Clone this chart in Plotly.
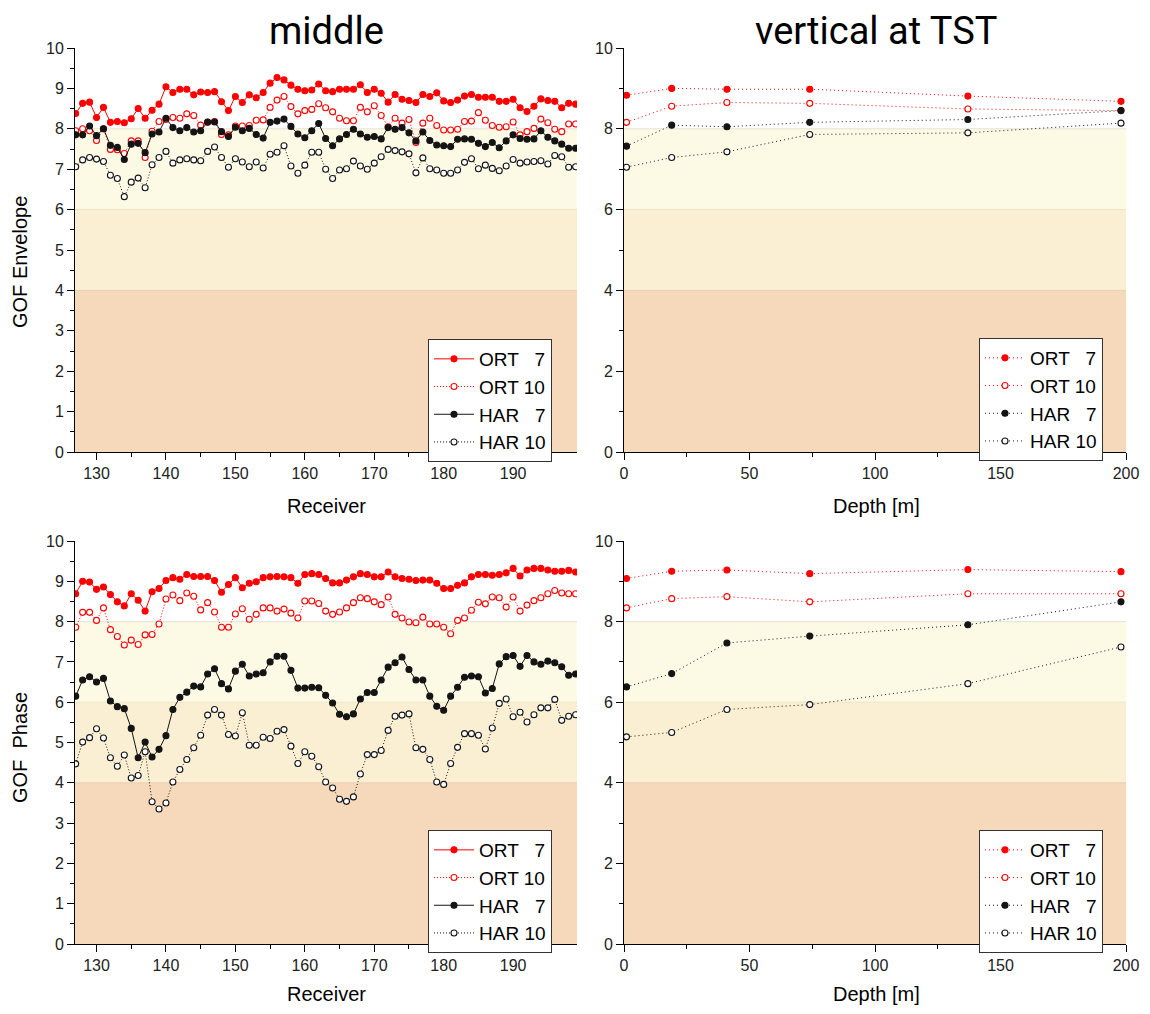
import plotly.graph_objects as go

# ---------------- data ----------------
receivers = [127, 128, 129, 130, 131, 132, 133, 134, 135, 136, 137, 138, 139, 140, 141, 142, 143, 144,
             145, 146, 147, 148, 149, 150, 151, 152, 153, 154, 155, 156, 157, 158, 159, 160, 161, 162,
             163, 164, 165, 166, 167, 168, 169, 170, 171, 172, 173, 174, 175, 176, 177, 178, 179, 180,
             181, 182, 183, 184, 185, 186, 187, 188, 189, 190, 191, 192, 193, 194, 195, 196, 197, 198, 199]

env_ort7 = [8.38, 8.63, 8.66, 8.28, 8.53, 8.16, 8.18, 8.15, 8.25, 8.50, 8.26, 8.46, 8.61, 9.04, 8.90, 8.98,
            8.98, 8.84, 8.91, 8.90, 8.92, 8.67, 8.45, 8.80, 8.65, 8.84, 8.77, 8.90, 9.13, 9.27, 9.21, 9.08,
            8.98, 8.94, 8.96, 9.11, 8.94,
            8.92, 8.98, 8.98, 8.98, 9.09, 8.90, 8.98, 8.88, 8.66, 8.85, 8.73, 8.70, 8.65, 8.85, 8.80, 8.89,
            8.69, 8.65, 8.71, 8.81, 8.85, 8.78, 8.78, 8.78, 8.68, 8.68, 8.73, 8.52, 8.43, 8.56, 8.74, 8.70,
            8.68, 8.52, 8.63, 8.61]
env_ort10 = [7.95, 8.00, 7.95, 7.71, 8.00, 7.49, 7.48, 7.39, 7.70, 7.70, 7.29, 7.94, 8.18, 8.23, 8.28, 8.26,
             8.37, 8.33, 8.09, 8.16, 8.18, 7.86, 7.85, 8.07, 8.07, 8.08, 8.21, 8.22, 8.53, 8.71, 8.80, 8.55,
             8.37, 8.45, 8.48, 8.62, 8.52,
             8.42, 8.26, 8.20, 8.20, 8.53, 8.42, 8.57, 8.33, 8.05, 8.26, 8.14, 8.23, 7.66, 8.14, 8.26, 8.08,
             7.97, 7.97, 7.99, 8.18, 8.19, 8.40, 8.21, 8.08, 8.04, 8.05, 8.17, 7.85, 7.93, 8.01, 8.24, 8.15,
             7.99, 7.93, 8.12, 8.12]
env_har7 = [7.85, 7.85, 8.07, 7.83, 8.00, 7.59, 7.54, 7.24, 7.62, 7.64, 7.41, 7.87, 7.92, 8.26, 8.03, 7.95,
            8.03, 7.92, 7.95, 8.17, 8.17, 7.93, 7.81, 8.04, 7.95, 8.01, 7.86, 7.77, 8.16, 8.19, 8.24, 8.06,
            7.87, 7.78, 7.95, 8.13, 7.76,
            7.58, 7.75, 7.86, 7.99, 7.87, 7.79, 7.81, 7.75, 8.03, 7.99, 8.03, 7.90, 7.70, 7.92, 7.71, 7.60,
            7.58, 7.56, 7.74, 7.75, 7.74, 7.64, 7.56, 7.66, 7.53, 7.70, 7.85, 7.76, 7.74, 7.75, 7.95, 7.79,
            7.70, 7.62, 7.52, 7.52]
env_har10 = [7.06, 7.23, 7.29, 7.25, 7.19, 6.85, 6.77, 6.32, 6.68, 6.78, 6.54, 7.11, 7.29, 7.44, 7.15, 7.23,
             7.26, 7.23, 7.21, 7.44, 7.55, 7.29, 7.05, 7.26, 7.18, 7.06, 7.18, 7.03, 7.37, 7.42, 7.58, 7.08,
             6.90, 7.10, 7.42, 7.42, 7.00,
             6.77, 6.98, 7.01, 7.20, 7.08, 7.00, 7.15, 7.31, 7.49, 7.46, 7.43, 7.38, 6.91, 7.28, 7.01, 6.98,
             6.90, 6.90, 6.98, 7.17, 7.26, 7.01, 7.10, 7.02, 6.96, 7.08, 7.24, 7.15, 7.18, 7.19, 7.21, 7.13,
             7.34, 7.31, 7.05, 7.06]

ph_ort7 = [8.69, 9.00, 8.98, 8.80, 8.86, 8.67, 8.49, 8.39, 8.69, 8.53, 8.26, 8.74, 8.82, 9.02, 9.09, 9.05,
           9.17, 9.12, 9.12, 9.12, 9.02, 8.73, 8.92, 9.09, 8.84, 8.95, 8.99, 9.09, 9.11, 9.12, 9.11, 9.09,
           8.95, 9.17, 9.19, 9.17, 9.07,
           8.96, 8.96, 9.03, 9.11, 9.19, 9.17, 9.11, 9.11, 9.23, 9.11, 9.07, 9.05, 9.02, 9.03, 9.03, 8.95,
           8.82, 8.82, 8.90, 8.96, 9.11, 9.17, 9.17, 9.15, 9.17, 9.21, 9.32, 9.13, 9.28, 9.32, 9.32, 9.28,
           9.25, 9.25, 9.27, 9.23]
ph_ort10 = [7.86, 8.23, 8.23, 8.03, 8.34, 7.80, 7.63, 7.42, 7.54, 7.43, 7.67, 7.68, 7.94, 8.56, 8.66, 8.52,
            8.71, 8.63, 8.29, 8.47, 8.24, 7.86, 7.86, 8.19, 8.32, 8.06, 8.18, 8.34, 8.34, 8.26, 8.31, 8.21,
            8.09, 8.51, 8.51, 8.45, 8.26,
            8.18, 8.24, 8.34, 8.47, 8.59, 8.57, 8.49, 8.42, 8.61, 8.18, 8.09, 7.99, 7.97, 8.11, 7.94, 7.94,
            7.86, 7.70, 8.03, 8.09, 8.28, 8.48, 8.44, 8.61, 8.59, 8.36, 8.61, 8.26, 8.41, 8.52, 8.59, 8.69,
            8.77, 8.71, 8.69, 8.69]
ph_har7 = [6.15, 6.55, 6.63, 6.50, 6.59, 6.03, 5.89, 5.84, 5.35, 4.62, 5.01, 4.64, 4.83, 5.17, 5.82, 6.12,
           6.25, 6.40, 6.38, 6.70, 6.83, 6.46, 6.33, 6.77, 6.94, 6.65, 6.70, 6.73, 7.00, 7.14, 7.14, 6.79,
           6.35, 6.35, 6.37, 6.36, 6.17,
           5.98, 5.70, 5.64, 5.71, 6.08, 6.24, 6.24, 6.55, 6.87, 6.98, 7.12, 6.81, 6.55, 6.55, 6.15, 5.90,
           5.80, 6.15, 6.37, 6.62, 6.65, 6.63, 6.23, 6.34, 6.95, 7.13, 7.16, 6.89, 7.16, 7.00, 6.94, 7.02,
           6.98, 6.88, 6.67, 6.70]
ph_har10 = [4.47, 5.01, 5.12, 5.34, 5.11, 4.62, 4.41, 4.69, 4.12, 4.18, 4.77, 3.53, 3.35, 3.50, 4.02, 4.33,
            4.58, 4.87, 5.18, 5.68, 5.82, 5.68, 5.20, 5.16, 5.74, 4.93, 4.93, 5.13, 5.10, 5.28, 5.32, 4.91,
            4.48, 4.77, 4.66, 4.40, 4.02,
            3.87, 3.59, 3.54, 3.65, 4.22, 4.70, 4.70, 4.80, 5.30, 5.65, 5.68, 5.71, 4.87, 4.83, 4.58, 4.02,
            3.96, 4.48, 4.88, 5.22, 5.22, 5.18, 4.84, 5.36, 5.97, 6.08, 5.64, 5.75, 5.51, 5.69, 5.86, 5.86,
            6.07, 5.55, 5.65, 5.69]

depth = [1, 19, 41, 74, 137, 198]
tst_env_ort7 = [8.83, 9.00, 8.98, 8.98, 8.81, 8.68]
tst_env_ort10 = [8.16, 8.56, 8.65, 8.63, 8.49, 8.45]
tst_env_har7 = [7.57, 8.09, 8.05, 8.16, 8.23, 8.45]
tst_env_har10 = [7.05, 7.29, 7.43, 7.86, 7.90, 8.14]
tst_ph_ort7 = [9.07, 9.25, 9.28, 9.19, 9.29, 9.24]
tst_ph_ort10 = [8.34, 8.57, 8.62, 8.49, 8.69, 8.69]
tst_ph_har7 = [6.38, 6.71, 7.47, 7.64, 7.92, 8.49]
tst_ph_har10 = [5.14, 5.25, 5.82, 5.94, 6.46, 7.37]

NB = "\u00a0"
series_names = ["ORT" + NB * 3 + "7", "ORT 10", "HAR" + NB * 3 + "7", "HAR 10"]
panel_titles = ["middle", "vertical at TST"]
y_titles = ["GOF Envelope", "GOF" + NB + NB + "Phase"]
x_titles = ["Receiver", "Depth [m]"]
receiver_ticks = [130, 140, 150, 160, 170, 180, 190]
depth_ticks = [0, 50, 100, 150, 200]

# ---------------- geometry ----------------
# the page keeps the browser's default 8px body margin: the figure is sized so that
# figure + margins fill the 1150x1014 window exactly.
OFF = 8
FW, FH = 1150 - 2 * OFF, 1014 - 2 * OFF


def px(X):
    return (X - OFF) / FW


def py(Y):
    return 1 - (Y - OFF) / FH


TICKFONT = dict(family="Liberation Sans, Arial, sans-serif", size=16, color="#222222")
RED = "#ff0000"
BLK = "#141414"

XL = [px(75), px(577)]
XR = [px(624), px(1126)]
YT = [py(452), py(48)]
YB = [py(944), py(541)]

fig = go.Figure()


def add_panel(xs, s_ort7, s_ort10, s_har7, s_har10, xa, ya, leg, all_dotted):
    specs = [
        (s_ort7, RED, True),
        (s_ort10, RED, False),
        (s_har7, BLK, True),
        (s_har10, BLK, False),
    ]
    for i, (vals, col, filled) in enumerate(specs):
        if all_dotted:
            dash = "1px,3px"
        else:
            dash = "solid" if filled else "1px,2px"
        marker = dict(size=6, symbol="circle",
                      color=col if filled else "white",
                      line=dict(color=col, width=1.1))
        fig.add_trace(go.Scatter(
            x=xs, y=vals, name=series_names[i], mode="lines+markers",
            line=dict(color=col, width=1, dash=dash),
            marker=marker, xaxis=xa, yaxis=ya, legend=leg,
        ))


add_panel(receivers, env_ort7, env_ort10, env_har7, env_har10, "x", "y", "legend", False)
add_panel(depth, tst_env_ort7, tst_env_ort10, tst_env_har7, tst_env_har10, "x2", "y2", "legend2", True)
add_panel(receivers, ph_ort7, ph_ort10, ph_har7, ph_har10, "x3", "y3", "legend3", False)
add_panel(depth, tst_ph_ort7, tst_ph_ort10, tst_ph_har7, tst_ph_har10, "x4", "y4", "legend4", True)

# background bands
bands = [(0, 4, "#f6d8bb"), (4, 6, "#faefd3"), (6, 8, "#fcf9e4")]
shapes = []
for xr_, yr_ in [("x", "y"), ("x2", "y2"), ("x3", "y3"), ("x4", "y4")]:
    for y0, y1, c in bands:
        shapes.append(dict(type="rect", xref=f"{xr_} domain", yref=yr_, x0=0, x1=1, y0=y0, y1=y1,
                           fillcolor=c, line=dict(width=0), layer="below"))
    for yv, lc in [(4, "#e9cfb3"), (6, "#ede2c6"), (8, "#e4e2d8")]:
        shapes.append(dict(type="line", xref=f"{xr_} domain", yref=yr_, x0=0, x1=1, y0=yv, y1=yv,
                           line=dict(color=lc, width=1), layer="below"))


def xaxis(domain, rng, tickvals, minor_dtick, anchor):
    return dict(domain=domain, range=rng, anchor=anchor, showline=True, linecolor="black", linewidth=1,
                ticks="outside", ticklen=7, tickwidth=1, tickcolor="black", tickvals=tickvals,
                minor=dict(ticks="outside", ticklen=4, dtick=minor_dtick, tickcolor="black", tick0=0),
                showgrid=False, zeroline=False, tickfont=TICKFONT, fixedrange=True)


def yaxis(domain, dtick, minor_dtick, anchor):
    return dict(domain=domain, range=[0, 10], anchor=anchor, showline=True, linecolor="black", linewidth=1,
                ticks="outside", ticklen=7, tickwidth=1, tickcolor="black", dtick=dtick, tick0=0,
                minor=dict(ticks="outside", ticklen=4, dtick=minor_dtick, tickcolor="black", tick0=0),
                showgrid=False, zeroline=False, tickfont=TICKFONT, fixedrange=True)


legend_common = dict(bgcolor="white", bordercolor="#333333", borderwidth=1,
                     font=dict(family="Liberation Sans, Arial, sans-serif", size=19, color="black"),
                     xanchor="left", yanchor="top", tracegroupgap=0, itemwidth=40)

annotations = []
TITLEFONT = dict(family="Roboto, Noto Sans, sans-serif", size=38, color="black")
AXFONT = dict(family="Liberation Sans, Arial, sans-serif", size=20, color="black")
annotations.append(dict(text=panel_titles[0], x=px(326), y=py(31), xref="paper", yref="paper",
                        showarrow=False, font=TITLEFONT, xanchor="center", yanchor="middle"))
annotations.append(dict(text=panel_titles[1], x=px(876), y=py(31), xref="paper", yref="paper",
                        showarrow=False, font=TITLEFONT, xanchor="center", yanchor="middle"))
for yy in [506, 994]:
    annotations.append(dict(text=x_titles[0], x=px(326), y=py(yy), xref="paper", yref="paper",
                            showarrow=False, font=AXFONT, xanchor="center", yanchor="middle"))
    annotations.append(dict(text=x_titles[1], x=px(876), y=py(yy), xref="paper", yref="paper",
                            showarrow=False, font=AXFONT, xanchor="center", yanchor="middle"))
annotations.append(dict(text=y_titles[0], x=px(20), y=py(262), xref="paper", yref="paper",
                        showarrow=False, font=AXFONT, textangle=-90, xanchor="center", yanchor="middle"))
annotations.append(dict(text=y_titles[1], x=px(20), y=py(748), xref="paper", yref="paper",
                        showarrow=False, font=AXFONT, textangle=-90, xanchor="center", yanchor="middle"))

fig.update_layout(
    width=FW, height=FH, margin=dict(l=0, r=0, t=0, b=0, autoexpand=False),
    paper_bgcolor="white", plot_bgcolor="white", showlegend=True,
    xaxis=xaxis(XL, [126.9, 199.2], receiver_ticks, 5, "y"),
    yaxis=yaxis(YT, 1, 0.5, "x"),
    xaxis2=xaxis(XR, [0, 200], depth_ticks, 25, "y2"),
    yaxis2=yaxis(YT, 2, 1, "x2"),
    xaxis3=xaxis(XL, [126.9, 199.2], receiver_ticks, 5, "y3"),
    yaxis3=yaxis(YB, 1, 0.5, "x3"),
    xaxis4=xaxis(XR, [0, 200], depth_ticks, 25, "y4"),
    yaxis4=yaxis(YB, 2, 1, "x4"),
    legend=dict(x=px(428), y=py(339), **legend_common),
    legend2=dict(x=px(979), y=py(338), **legend_common),
    legend3=dict(x=px(428), y=py(830), **legend_common),
    legend4=dict(x=px(979), y=py(830), **legend_common),
    shapes=shapes, annotations=annotations,
)

fig.write_html("out.html", config={"displayModeBar": False})
